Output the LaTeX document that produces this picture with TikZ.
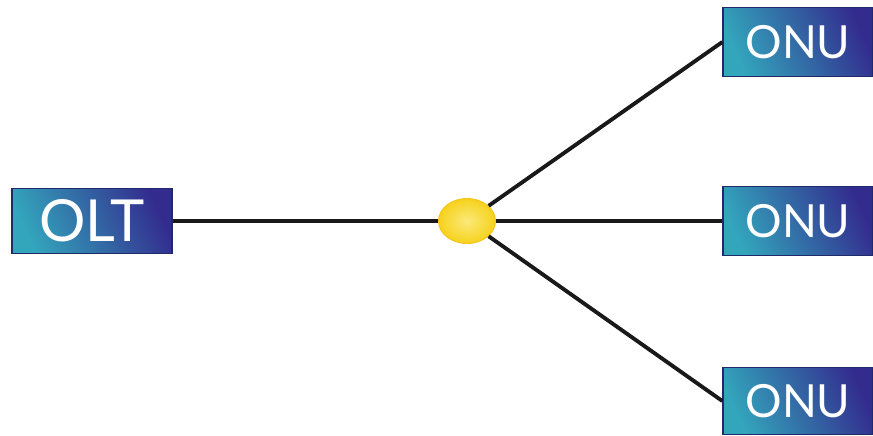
\documentclass[tikz,border=0pt]{standalone}
\usepackage{fontspec}
\setsansfont{Lato}
\usetikzlibrary{shapes.geometric}
\definecolor{PonTeal}{HTML}{33A6BC}
\definecolor{PonIndigo}{HTML}{332C8E}
\definecolor{PonEdge}{HTML}{1F2A6B}
\definecolor{PonYellow}{HTML}{F6D21C}
\definecolor{PonGlow}{HTML}{FBE97A}

\begin{document}
\begin{tikzpicture}[x=0.02cm,y=-0.02cm,font=\sffamily,
    unitbox/.style={draw=PonEdge, line width=0.8pt,
      left color=PonTeal, right color=PonIndigo, shading angle=115,
      text=white, inner sep=0pt},
    fibre/.style={line width=2.2pt, black!90}]
  \useasboundingbox (0,0) rectangle (873,436);
  \fill[white] (0,0) rectangle (873,436);

  \node[unitbox, minimum width=3.2cm, minimum height=1.3cm,
    font=\fontsize{33}{33}\sffamily] (olt) at (92,221) {OLT};
  \node[ellipse, draw=PonYellow!80!orange, line width=0.5pt,
    inner color=PonGlow, outer color=PonYellow,
    minimum width=1.14cm, minimum height=0.9cm] (splitter) at (467,221) {};

  \node[unitbox, minimum width=3cm, minimum height=1.38cm,
    font=\fontsize{26}{26}\sffamily] (onuA) at (798,42) {ONU};
  \node[unitbox, minimum width=3cm, minimum height=1.38cm,
    font=\fontsize{26}{26}\sffamily] (onuB) at (798,221) {ONU};
  \node[unitbox, minimum width=3cm, minimum height=1.34cm,
    font=\fontsize{26}{26}\sffamily] (onuC) at (798,401) {ONU};

  \draw[fibre] (olt.east) -- (splitter.west);
  \draw[fibre] (splitter) -- (onuA.west);
  \draw[fibre] (splitter.east) -- (onuB.west);
  \draw[fibre] (splitter) -- (onuC.west);
\end{tikzpicture}
\end{document}
